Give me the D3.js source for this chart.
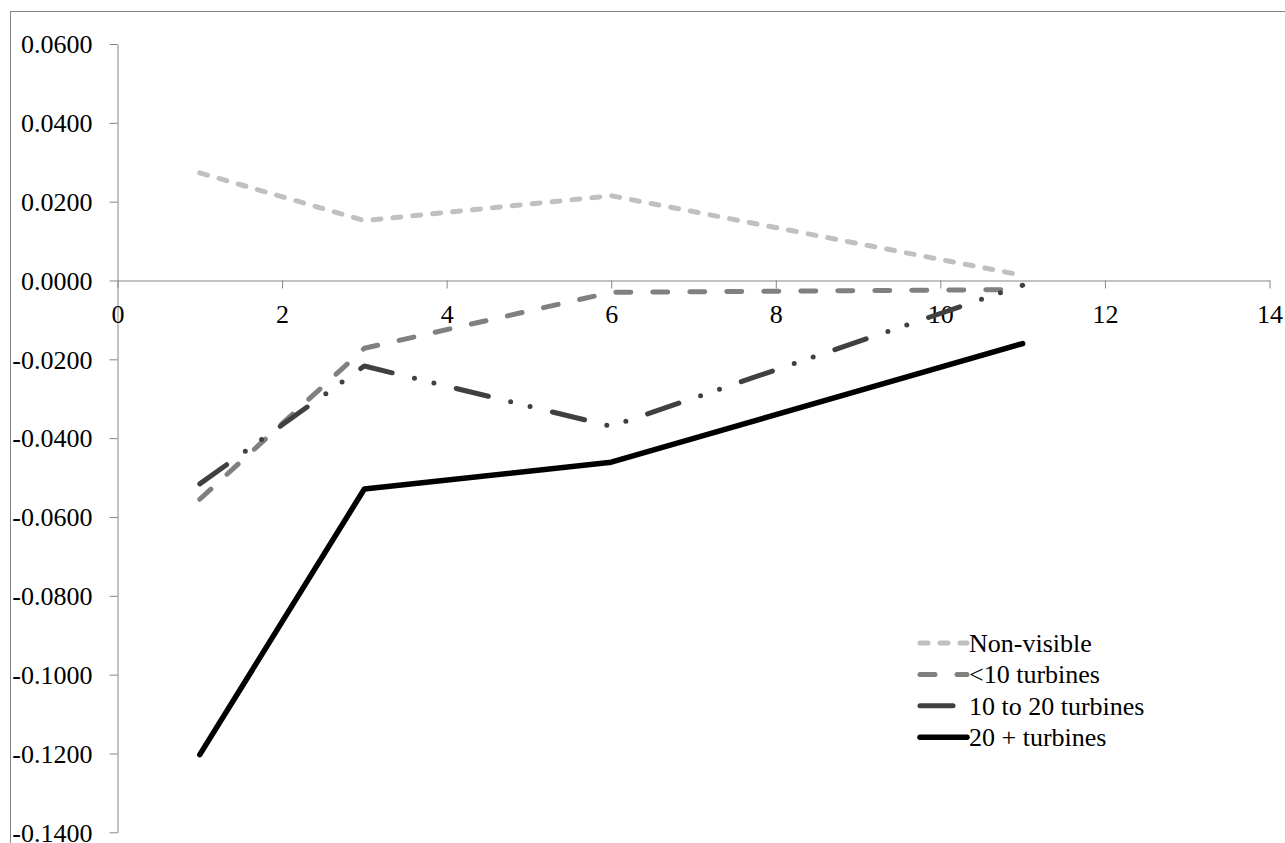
<!DOCTYPE html>
<html>
<head>
<meta charset="utf-8">
<script src="https://cdn.jsdelivr.net/npm/d3@7"></script>
<style>
  body { margin: 0; background: #fff; }
  svg { display: block; }
  svg text { font-family: "Liberation Serif", "DejaVu Serif", "Times New Roman", Times, serif; font-size: 26px; fill: #000; }
  .axis path, .axis line { stroke: #868686; stroke-width: 1; }
</style>
</head>
<body>
<svg id="chart" width="1285" height="843"></svg>
<script>
// distance steps (x) and estimated effects per group
let xs = [1, 3, 6, 11];
let nonVisible = [0.0273, 0.0152, 0.0215, 0.0013];
let under10 = [-0.0555, -0.0172, -0.0030, -0.0023];
let tenTo20 = [-0.0516, -0.0217, -0.0370, -0.0012];
let over20 = [-0.1203, -0.0529, -0.0461, -0.0160];

let seriesNames = ["Non-visible", "<10 turbines", "10 to 20 turbines", "20 + turbines"];
let xTicks = [0, 2, 4, 6, 8, 10, 12, 14];
let yTicks = [0.06, 0.04, 0.02, 0, -0.02, -0.04, -0.06, -0.08, -0.10, -0.12, -0.14];

let styles = [
  { color: "#c0c0c0", width: 5, dash: "8 12" },
  { color: "#808080", width: 5, dash: "15 22" },
  { color: "#404040", width: 5, dash: "33 23 0 20 0 23" },
  { color: "#000000", width: 5.5, dash: null }
];

let svgc = d3.select("#chart");

// outer frame (runs off the right and bottom edges like the original)
svgc.append("rect")
    .attr("x", 10.5)
    .attr("y", 11.5)
    .attr("width", 1300)
    .attr("height", 860)
    .attr("fill", "none")
    .attr("stroke", "#868686");

let x = d3.scaleLinear().domain([0, 14]).range([117.5, 1269.5]);
let y = d3.scaleLinear().domain([-0.14, 0.06]).range([832.3, 44]);

let yAxis = svgc.append("g")
    .attr("class", "axis")
    .attr("transform", `translate(${x(0)},0)`)
    .call(d3.axisLeft(y)
      .tickValues(yTicks)
      .tickFormat(d => d.toFixed(4))
      .tickSize(8)
      .tickSizeOuter(0)
      .tickPadding(17));
yAxis.attr("font-family", null).attr("font-size", null);
yAxis.selectAll("text").attr("dy", "0.34em");

let xAxis = svgc.append("g")
    .attr("class", "axis")
    .attr("transform", `translate(0,${y(0)})`)
    .call(d3.axisBottom(x)
      .tickValues(xTicks)
      .tickFormat(d3.format("d"))
      .tickSize(8)
      .tickSizeOuter(0)
      .tickPadding(16));
xAxis.attr("font-family", null).attr("font-size", null);

let allSeries = [nonVisible, under10, tenTo20, over20];

let line = d3.line()
    .x((d, i) => x(xs[i]))
    .y(d => y(d));

allSeries.forEach((vals, k) => {
  svgc.append("path")
      .datum(vals)
      .attr("d", line)
      .attr("fill", "none")
      .attr("stroke", styles[k].color)
      .attr("stroke-width", styles[k].width)
      .attr("stroke-dasharray", styles[k].dash)
      .attr("stroke-linecap", "round")
      .attr("stroke-linejoin", "round");
});

// legend
let legend = svgc.append("g")
    .attr("transform", "translate(920,643)");

seriesNames.forEach((name, k) => {
  let row = legend.append("g")
      .attr("transform", `translate(0,${k * 31.4})`);
  row.append("line")
      .attr("x1", 0)
      .attr("x2", 47)
      .attr("stroke", styles[k].color)
      .attr("stroke-width", styles[k].width)
      .attr("stroke-dasharray", styles[k].dash)
      .attr("stroke-linecap", "round");
  row.append("text")
      .attr("x", 49)
      .attr("dy", "0.34em")
      .text(name);
});
</script>
</body>
</html>
